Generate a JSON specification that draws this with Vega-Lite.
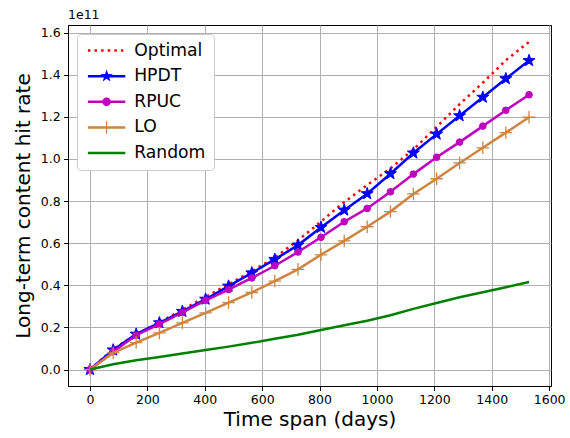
{
  "$schema": "https://vega.github.io/schema/vega-lite/v6.json",
  "autosize": "none",
  "width": 483,
  "height": 361,
  "padding": {"left": 68, "top": 25, "right": 19, "bottom": 52},
  "background": "white",
  "title": {"text": "1e11", "anchor": "start", "frame": "group", "fontSize": 12.5, "fontWeight": "normal", "font": "DejaVu Sans", "color": "black", "offset": 4},
  "config": {
    "font": "DejaVu Sans",
    "view": {"stroke": "black", "strokeWidth": 1},
    "axis": {
      "domainColor": "black", "domainWidth": 1, "tickColor": "black", "tickWidth": 1, "tickSize": 4.4,
      "labelFont": "DejaVu Sans", "labelFontSize": 12.5, "labelColor": "black", "labelPadding": 3.5,
      "titleFont": "DejaVu Sans", "titleFontSize": 20, "titleFontWeight": "normal", "titleColor": "black",
      "grid": true, "gridColor": "#b0b0b0", "gridWidth": 1
    }
  },
  "data": {"values": [
    {"days": 0, "method": "Optimal", "rate": 0},
    {"days": 81, "method": "Optimal", "rate": 0.097e11},
    {"days": 161, "method": "Optimal", "rate": 0.168e11},
    {"days": 242, "method": "Optimal", "rate": 0.225e11},
    {"days": 322, "method": "Optimal", "rate": 0.283e11},
    {"days": 403, "method": "Optimal", "rate": 0.345e11},
    {"days": 483, "method": "Optimal", "rate": 0.405e11},
    {"days": 564, "method": "Optimal", "rate": 0.467e11},
    {"days": 644, "method": "Optimal", "rate": 0.532e11},
    {"days": 725, "method": "Optimal", "rate": 0.613e11},
    {"days": 805, "method": "Optimal", "rate": 0.703e11},
    {"days": 886, "method": "Optimal", "rate": 0.795e11},
    {"days": 966, "method": "Optimal", "rate": 0.876e11},
    {"days": 1047, "method": "Optimal", "rate": 0.955e11},
    {"days": 1127, "method": "Optimal", "rate": 1.045e11},
    {"days": 1208, "method": "Optimal", "rate": 1.152e11},
    {"days": 1288, "method": "Optimal", "rate": 1.26e11},
    {"days": 1369, "method": "Optimal", "rate": 1.362e11},
    {"days": 1449, "method": "Optimal", "rate": 1.468e11},
    {"days": 1530, "method": "Optimal", "rate": 1.556e11},
    {"days": 0, "method": "HPDT", "rate": 0},
    {"days": 81, "method": "HPDT", "rate": 0.093e11},
    {"days": 161, "method": "HPDT", "rate": 0.168e11},
    {"days": 242, "method": "HPDT", "rate": 0.222e11},
    {"days": 322, "method": "HPDT", "rate": 0.276e11},
    {"days": 403, "method": "HPDT", "rate": 0.334e11},
    {"days": 483, "method": "HPDT", "rate": 0.396e11},
    {"days": 564, "method": "HPDT", "rate": 0.459e11},
    {"days": 644, "method": "HPDT", "rate": 0.523e11},
    {"days": 725, "method": "HPDT", "rate": 0.591e11},
    {"days": 805, "method": "HPDT", "rate": 0.675e11},
    {"days": 886, "method": "HPDT", "rate": 0.757e11},
    {"days": 966, "method": "HPDT", "rate": 0.835e11},
    {"days": 1047, "method": "HPDT", "rate": 0.930e11},
    {"days": 1127, "method": "HPDT", "rate": 1.028e11},
    {"days": 1208, "method": "HPDT", "rate": 1.118e11},
    {"days": 1288, "method": "HPDT", "rate": 1.205e11},
    {"days": 1369, "method": "HPDT", "rate": 1.293e11},
    {"days": 1449, "method": "HPDT", "rate": 1.381e11},
    {"days": 1530, "method": "HPDT", "rate": 1.467e11},
    {"days": 0, "method": "RPUC", "rate": 0},
    {"days": 81, "method": "RPUC", "rate": 0.085e11},
    {"days": 161, "method": "RPUC", "rate": 0.163e11},
    {"days": 242, "method": "RPUC", "rate": 0.216e11},
    {"days": 322, "method": "RPUC", "rate": 0.271e11},
    {"days": 403, "method": "RPUC", "rate": 0.329e11},
    {"days": 483, "method": "RPUC", "rate": 0.380e11},
    {"days": 564, "method": "RPUC", "rate": 0.435e11},
    {"days": 644, "method": "RPUC", "rate": 0.493e11},
    {"days": 725, "method": "RPUC", "rate": 0.558e11},
    {"days": 805, "method": "RPUC", "rate": 0.628e11},
    {"days": 886, "method": "RPUC", "rate": 0.702e11},
    {"days": 966, "method": "RPUC", "rate": 0.765e11},
    {"days": 1047, "method": "RPUC", "rate": 0.844e11},
    {"days": 1127, "method": "RPUC", "rate": 0.928e11},
    {"days": 1208, "method": "RPUC", "rate": 1.008e11},
    {"days": 1288, "method": "RPUC", "rate": 1.080e11},
    {"days": 1369, "method": "RPUC", "rate": 1.156e11},
    {"days": 1449, "method": "RPUC", "rate": 1.231e11},
    {"days": 1530, "method": "RPUC", "rate": 1.305e11},
    {"days": 0, "method": "LO", "rate": 0},
    {"days": 81, "method": "LO", "rate": 0.079e11},
    {"days": 161, "method": "LO", "rate": 0.128e11},
    {"days": 242, "method": "LO", "rate": 0.174e11},
    {"days": 322, "method": "LO", "rate": 0.222e11},
    {"days": 403, "method": "LO", "rate": 0.269e11},
    {"days": 483, "method": "LO", "rate": 0.318e11},
    {"days": 564, "method": "LO", "rate": 0.366e11},
    {"days": 644, "method": "LO", "rate": 0.420e11},
    {"days": 725, "method": "LO", "rate": 0.476e11},
    {"days": 805, "method": "LO", "rate": 0.545e11},
    {"days": 886, "method": "LO", "rate": 0.611e11},
    {"days": 966, "method": "LO", "rate": 0.678e11},
    {"days": 1047, "method": "LO", "rate": 0.750e11},
    {"days": 1127, "method": "LO", "rate": 0.834e11},
    {"days": 1208, "method": "LO", "rate": 0.906e11},
    {"days": 1288, "method": "LO", "rate": 0.981e11},
    {"days": 1369, "method": "LO", "rate": 1.053e11},
    {"days": 1449, "method": "LO", "rate": 1.125e11},
    {"days": 1530, "method": "LO", "rate": 1.198e11},
    {"days": 0, "method": "Random", "rate": 0},
    {"days": 81, "method": "Random", "rate": 0.025e11},
    {"days": 161, "method": "Random", "rate": 0.044e11},
    {"days": 242, "method": "Random", "rate": 0.060e11},
    {"days": 322, "method": "Random", "rate": 0.076e11},
    {"days": 403, "method": "Random", "rate": 0.093e11},
    {"days": 483, "method": "Random", "rate": 0.109e11},
    {"days": 564, "method": "Random", "rate": 0.127e11},
    {"days": 644, "method": "Random", "rate": 0.146e11},
    {"days": 725, "method": "Random", "rate": 0.165e11},
    {"days": 805, "method": "Random", "rate": 0.188e11},
    {"days": 886, "method": "Random", "rate": 0.210e11},
    {"days": 966, "method": "Random", "rate": 0.232e11},
    {"days": 1047, "method": "Random", "rate": 0.258e11},
    {"days": 1127, "method": "Random", "rate": 0.288e11},
    {"days": 1208, "method": "Random", "rate": 0.316e11},
    {"days": 1288, "method": "Random", "rate": 0.343e11},
    {"days": 1369, "method": "Random", "rate": 0.367e11},
    {"days": 1449, "method": "Random", "rate": 0.391e11},
    {"days": 1530, "method": "Random", "rate": 0.416e11}
  ]},
  "encoding": {
    "x": {"field": "days", "type": "quantitative",
      "scale": {"domain": [-76.5, 1606.5], "nice": false, "zero": false},
      "axis": {"title": "Time span (days)", "values": [0, 200, 400, 600, 800, 1000, 1200, 1400, 1600], "format": "d", "titlePadding": 3.5}},
    "y": {"field": "rate", "type": "quantitative",
      "scale": {"domain": [-0.078e11, 1.636e11], "nice": false, "zero": false},
      "axis": {"title": "Long-term content hit rate", "values": [0, 0.2e11, 0.4e11, 0.6e11, 0.8e11, 1.0e11, 1.2e11, 1.4e11, 1.6e11], "labelExpr": "format(datum.value / 1e11, '.1f')", "titlePadding": 7}}
  },
  "layer": [
    {"transform": [{"filter": "datum.method === 'Optimal'"}],
     "mark": {"type": "line", "color": "#ff0000", "strokeWidth": 2.5, "strokeDash": [2.5, 4.1], "strokeCap": "butt"}, "encoding": {}},
    {"transform": [{"filter": "datum.method === 'HPDT'"}],
     "mark": {"type": "line", "color": "#0000ff", "strokeWidth": 2.5}, "encoding": {}},
    {"transform": [{"filter": "datum.method === 'HPDT'"}],
     "mark": {"type": "point", "filled": true, "fill": "#0000ff", "stroke": "#0000ff", "strokeWidth": 1, "opacity": 1, "size": 160,
       "shape": "M0,-1L0.235,-0.324L0.951,-0.309L0.380,0.124L0.588,0.809L0,0.4L-0.588,0.809L-0.380,0.124L-0.951,-0.309L-0.235,-0.324Z"}},
    {"transform": [{"filter": "datum.method === 'RPUC'"}],
     "mark": {"type": "line", "color": "#bf00bf", "strokeWidth": 2.5}, "encoding": {}},
    {"transform": [{"filter": "datum.method === 'RPUC'"}],
     "mark": {"type": "point", "filled": true, "fill": "#bf00bf", "stroke": "#bf00bf", "strokeWidth": 1, "opacity": 1, "size": 44, "shape": "circle"}},
    {"transform": [{"filter": "datum.method === 'LO'"}],
     "mark": {"type": "line", "color": "#cd853f", "strokeWidth": 2.5}, "encoding": {}},
    {"transform": [{"filter": "datum.method === 'LO'"}],
     "mark": {"type": "point", "filled": false, "stroke": "#cd853f", "strokeWidth": 1.3, "opacity": 1, "size": 156, "shape": "M-1,0H1M0,-1V1"}},
    {"transform": [{"filter": "datum.method === 'Random'"}],
     "mark": {"type": "line", "color": "#008000", "strokeWidth": 2.5}, "encoding": {}},
    {"mark": {"type": "point", "filled": true, "opacity": 0},
     "encoding": {
       "fill": {"field": "method", "type": "nominal",
         "scale": {"domain": ["Optimal", "HPDT", "RPUC", "LO", "Random"], "range": ["#ff0000", "#0000ff", "#bf00bf", "#cd853f", "#008000"]},
         "legend": {"title": null, "orient": "none", "legendX": 9, "legendY": 9,
           "fillColor": "white", "strokeColor": "#cccccc", "cornerRadius": 4, "padding": 8,
           "labelFont": "DejaVu Sans", "labelFontSize": 17.2, "labelColor": "black", "labelOffset": 19,
           "symbolSize": 196, "symbolOffset": 13, "symbolStrokeWidth": 0, "rowPadding": 7.6, "symbolOpacity": 1,
           "encode": {"symbols": {"update": {"opacity": {"value": 1}}}}}},
       "shape": {"field": "method", "type": "nominal",
         "scale": {"domain": ["Optimal", "HPDT", "RPUC", "LO", "Random"],
           "range": [
             "M-2.67,-0.18h0.357v0.36h-0.357ZM-1.727,-0.18h0.357v0.36h-0.357ZM-0.784,-0.18h0.357v0.36h-0.357ZM0.159,-0.18h0.357v0.36h-0.357ZM1.102,-0.18h0.357v0.36h-0.357ZM2.045,-0.18h0.357v0.36h-0.357Z",
             "M-2.67,-0.18H2.67V0.18H-2.67ZM0,-0.95L0.223,-0.308L0.903,-0.294L0.361,0.118L0.559,0.769L0,0.38L-0.559,0.769L-0.361,0.118L-0.903,-0.294L-0.223,-0.308Z",
             "M-2.67,-0.18H2.67V0.18H-2.67ZM-0.62,0A0.62,0.62 0 1,1 0.62,0A0.62,0.62 0 1,1 -0.62,0Z",
             "M-2.67,-0.18H2.67V0.18H-2.67ZM-0.09,-0.89H0.09V0.89H-0.09Z",
             "M-2.67,-0.18H2.67V0.18H-2.67Z"
           ]},
         "legend": {"title": null}}
     }}
  ]
}
